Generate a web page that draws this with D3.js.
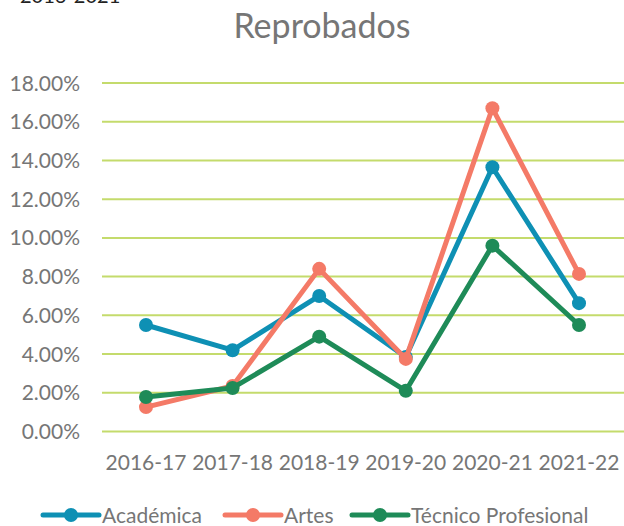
<!DOCTYPE html>
<html>
<head>
<meta charset="utf-8">
<script src="https://cdn.jsdelivr.net/npm/d3@7"></script>
<style>
  body { margin: 0; background: #fff; }
  svg { display: block; font-family: Lato, "Open Sans", sans-serif; }
</style>
</head>
<body>
<svg id="chart" width="624" height="526"></svg>
<script>
// data
const years = ["2016-17", "2017-18", "2018-19", "2019-20", "2020-21", "2021-22"];
const academica = [5.5, 4.2, 7.0, 3.85, 13.65, 6.63];
const artes = [1.26, 2.35, 8.4, 3.75, 16.7, 8.14];
const tecnico = [1.78, 2.25, 4.9, 2.1, 9.6, 5.5];
const yTicks = [0, 2, 4, 6, 8, 10, 12, 14, 16, 18];

const series = [
  {name: "Académica", values: academica, color: "#0e90b4"},
  {name: "Artes", values: artes, color: "#f47a67"},
  {name: "Técnico Profesional", values: tecnico, color: "#1e8b58"}
];

const svg = d3.select("#chart");
const TEXT_GREY = "#767676";

const x = d3.scalePoint().domain(years).range([146, 579]);
const y = d3.scaleLinear().domain([0, 18]).range([431.5, 83]);

// heading cut off at the very top, as in the source
svg.append("text")
  .attr("x", 20).attr("y", 3)
  .attr("font-size", 20).attr("fill", "#222")
  .text("2016-2021");

svg.append("text")
  .attr("x", 322).attr("y", 38)
  .attr("text-anchor", "middle")
  .attr("font-size", 34).attr("fill", TEXT_GREY)
  .text("Reprobados");

// gridlines + y labels
const grid = svg.append("g");
grid.selectAll("line").data(yTicks).enter().append("line")
  .attr("x1", 102).attr("x2", 624)
  .attr("y1", d => y(d)).attr("y2", d => y(d))
  .attr("stroke", "#c4db6c").attr("stroke-width", 2);

grid.selectAll("text").data(yTicks).enter().append("text")
  .attr("x", 80).attr("y", d => y(d) + 7.5)
  .attr("text-anchor", "end")
  .attr("font-size", 21).attr("fill", TEXT_GREY)
  .text(d => d.toFixed(2) + "%");

// x labels
svg.append("g").selectAll("text").data(years).enter().append("text")
  .attr("x", d => x(d)).attr("y", 470)
  .attr("text-anchor", "middle")
  .attr("font-size", 21).attr("fill", TEXT_GREY)
  .text(d => d);

const line = d3.line()
  .x((d, i) => x(years[i]))
  .y(d => y(d));

const lines = svg.append("g");
series.forEach(s => {
  const g = lines.append("g");
  g.append("path")
    .attr("d", line(s.values))
    .attr("fill", "none")
    .attr("stroke", s.color)
    .attr("stroke-width", 5)
    .attr("stroke-linejoin", "round");
  g.selectAll("circle").data(s.values).enter().append("circle")
    .attr("cx", (d, i) => x(years[i]))
    .attr("cy", d => y(d))
    .attr("r", 7)
    .attr("fill", s.color);
});

// legend
const legendX = [43, 225, 352];
const legend = svg.append("g").selectAll("g").data(series).enter().append("g")
  .attr("transform", (d, i) => "translate(" + [legendX[i], 515] + ")");
legend.append("line")
  .attr("x1", 0).attr("x2", 56)
  .attr("stroke", d => d.color).attr("stroke-width", 5)
  .attr("stroke-linecap", "round");
legend.append("circle")
  .attr("cx", 28).attr("r", 7)
  .attr("fill", d => d.color);
legend.append("text")
  .attr("x", 59).attr("y", 7.5)
  .attr("font-size", 21).attr("fill", TEXT_GREY)
  .text(d => d.name);
</script>
</body>
</html>
